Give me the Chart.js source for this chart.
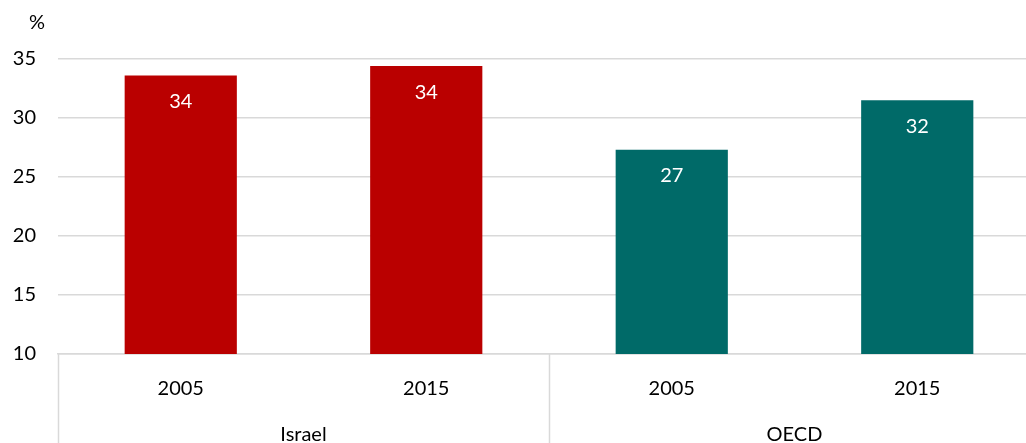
<!DOCTYPE html>
<html>
<head>
<meta charset="utf-8">
<script src="https://cdn.jsdelivr.net/npm/chart.js@4"></script>
<style>
  html, body { margin: 0; padding: 0; background: #fff; overflow: hidden; }
  #wrap { width: 1040px; height: 443px; }
</style>
</head>
<body>
<div id="wrap"><canvas id="chart" width="1040" height="443"></canvas></div>
<script>
const years = ["2005", "2015", "2005", "2015"];
const groups = ["Israel", "OECD"];
const values = [33.6, 34.4, 27.3, 31.5];
const barColors = ["#BA0000", "#BA0000", "#006A68", "#006A68"];
const yTicks = [10, 15, 20, 25, 30, 35];

const font = "Lato, 'Open Sans', sans-serif";

// draws the white value labels, group labels, separators and the % sign
const extras = {
  id: "extras",
  afterDraw(chart) {
    const { ctx, chartArea, scales } = chart;
    const x = scales.x;
    const step = x.getPixelForValue(1) - x.getPixelForValue(0);
    ctx.save();

    // value labels inside bars
    ctx.fillStyle = "#fff";
    ctx.font = "20px " + font;
    ctx.textAlign = "center";
    ctx.textBaseline = "middle";
    chart.getDatasetMeta(0).data.forEach((bar, i) => {
      ctx.fillText(Math.round(values[i]), bar.x, bar.y + 26);
    });

    // group separators + labels
    ctx.strokeStyle = "#d9d9d9";
    ctx.lineWidth = 1.5;
    for (let g = 0; g <= groups.length; g++) {
      const px = Math.round(x.getPixelForValue(g * 2) - step / 2) + 0.5;
      ctx.beginPath();
      ctx.moveTo(px, chartArea.bottom);
      ctx.lineTo(px, chart.height);
      ctx.stroke();
    }
    ctx.fillStyle = "#000";
    groups.forEach((g, i) => {
      const mid = (x.getPixelForValue(i * 2) + x.getPixelForValue(i * 2 + 1)) / 2;
      ctx.fillText(g, mid, chartArea.bottom + 81);
    });

    // unit
    ctx.textAlign = "left";
    ctx.fillText("%", 29, 23);
    ctx.restore();
  }
};

new Chart(document.getElementById("chart"), {
  type: "bar",
  data: {
    labels: years,
    datasets: [{
      data: values,
      backgroundColor: barColors,
      categoryPercentage: 1,
      barPercentage: 0.457
    }]
  },
  options: {
    responsive: false,
    animation: false,
    layout: { padding: { top: 59, left: 0, right: 0, bottom: 0 } },
    plugins: { legend: { display: false }, tooltip: { enabled: false } },
    scales: {
      x: {
        grid: { display: false },
        border: { display: true, color: "#d9d9d9", width: 1.5 },
        ticks: { color: "#000", font: { family: font, size: 20 }, padding: 15 },
        afterFit: s => { s.height = 89; }
      },
      y: {
        min: 10,
        max: 35,
        afterBuildTicks: s => { s.ticks = yTicks.map(v => ({ value: v })); },
        grid: { color: "#d9d9d9", lineWidth: 1.5, drawTicks: false },
        border: { display: false },
        ticks: { color: "#000", font: { family: font, size: 20 }, padding: 22 },
        afterFit: s => { s.width = 58; }
      }
    }
  },
  plugins: [extras]
});
</script>
</body>
</html>
